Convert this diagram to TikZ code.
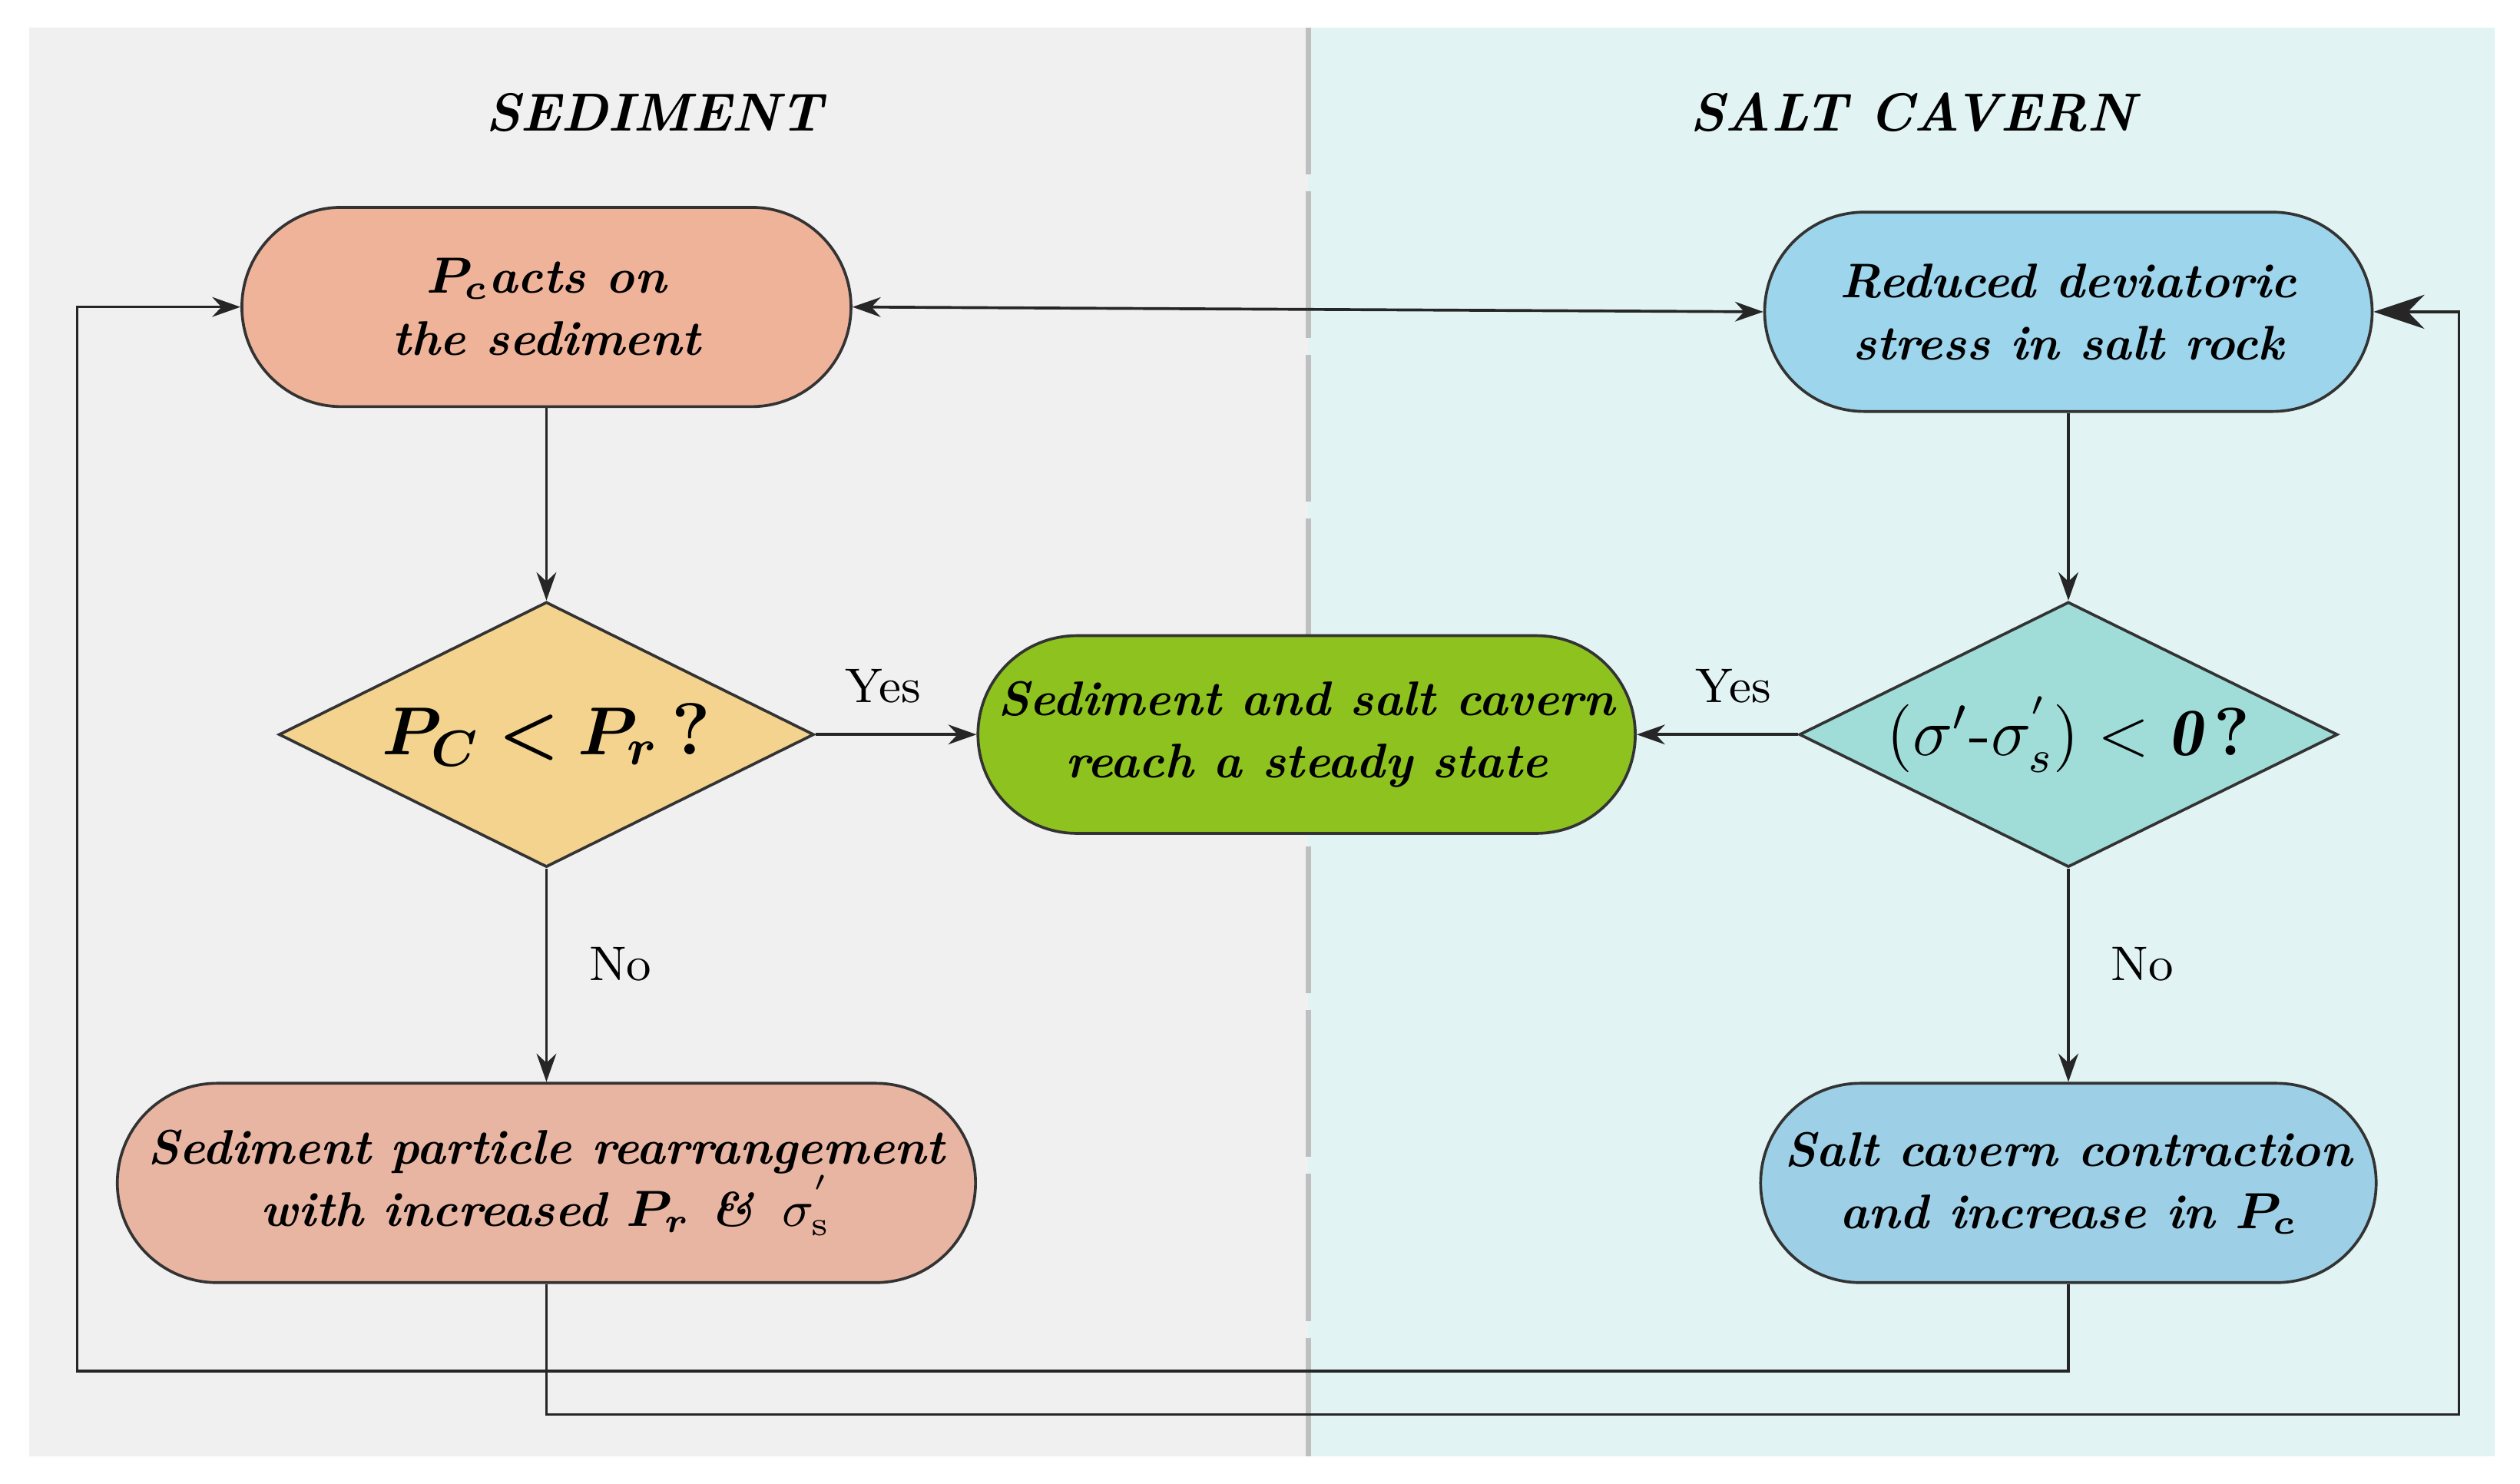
\documentclass[tikz,border=0pt]{standalone}
\usepackage{amsmath,bm}
\usepackage{fontspec}
\usetikzlibrary{shapes.geometric,shapes.misc,arrows.meta}
\definecolor{bgL}{HTML}{F0F0F0}
\definecolor{bgR}{HTML}{E1F3F3}
\definecolor{cA}{HTML}{EFB39A}
\definecolor{cB}{HTML}{9DD5EC}
\definecolor{cD1}{HTML}{F3D38E}
\definecolor{cD2}{HTML}{A0DCD8}
\definecolor{cC}{HTML}{8DC21F}
\definecolor{cE}{HTML}{E8B5A2}
\definecolor{cF}{HTML}{9DD0E6}
\newcommand{\bi}{\fontsize{8.6}{11}\selectfont\bfseries\itshape\addfontfeatures{LetterSpace=9}}
\begin{document}
\begin{tikzpicture}[x=0.1mm,y=-0.1mm,
  box/.style={rounded rectangle, draw=black!80, line width=0.5pt, align=center, font=\bi, inner sep=0pt},
  dia/.style={diamond, draw=black!80, line width=0.5pt, align=center, inner sep=0pt},
  arr/.style={-{Stealth[length=5pt,width=3.5pt]}, line width=0.5pt, draw=black!85},
  lab/.style={font=\fontsize{8.6}{11}\selectfont}]
\useasboundingbox (0,0) rectangle (1568,923);
\fill[white] (0,0) rectangle (1568,923);
\fill[bgL] (18,17) rectangle (814,906);
\fill[bgR] (814,17) rectangle (1552,906);
\draw[gray!50, line width=1pt, dash pattern=on 26pt off 3pt] (814,17) -- (814,906);
\node[font=\fontsize{9.5}{12}\selectfont\bfseries\itshape\addfontfeatures{LetterSpace=9}] (t1) at (407,70) {SEDIMENT};
\node[font=\fontsize{9.5}{12}\selectfont\bfseries\itshape\addfontfeatures{LetterSpace=9}] (t2) at (1190,70) {SALT CAVERN};

\node[box, fill=cA, minimum width=3.79cm, minimum height=1.24cm] (A) at (340,191) {$\bm{P_c}$acts on\\the sediment};
\node[box, fill=cB, minimum width=3.78cm, minimum height=1.24cm] (B) at (1287,194) {Reduced deviatoric\\stress in salt rock};
\node[dia, fill=cD1, minimum width=3.33cm, minimum height=1.65cm, aspect=2] (D1) at (340,457) {};
\node[font=\fontsize{13}{14}\selectfont] at (D1) {$\bm{P_C<P_r}$\,\textbf{?}};
\node[dia, fill=cD2, minimum width=3.35cm, minimum height=1.65cm, aspect=2] (D2) at (1287,457) {};
\node[font=\fontsize{12}{14}\selectfont] at (D2) {$(\sigma'\mbox{-}\sigma_s^{'})<\bm{\mathit{0}}$\,\textbf{?}};
\node[box, fill=cC, minimum width=4.09cm, minimum height=1.23cm] (C) at (813,457) {Sediment and salt cavern\\reach a steady state};
\node[box, fill=cE, minimum width=5.34cm, minimum height=1.24cm] (E) at (340,736) {Sediment particle rearrangement\\with increased $\bm{P_r}$ \& \,$\sigma_{\mathrm{s}}^{'}$};
\node[box, fill=cF, minimum width=3.83cm, minimum height=1.24cm] (F) at (1287,736) {Salt cavern contraction\\and increase in $\bm{P_c}$};

\draw[arr, {Stealth[length=5pt,width=3.5pt]}-{Stealth[length=5pt,width=3.5pt]}] (A.east) -- (B.west);
\draw[arr] (A.south) -- (D1.north);
\draw[arr] (B.south) -- (D2.north);
\draw[arr] (D1.east) -- node[lab, above=2pt, pos=0.42] {Yes} (C.west);
\draw[arr] (D2.west) -- node[lab, above=2pt, pos=0.4] {Yes} (C.east);
\draw[arr] (D1.south) -- node[lab, right=4pt, pos=0.45] {No} (E.north);
\draw[arr] (D2.south) -- node[lab, right=4pt, pos=0.45] {No} (F.north);
\coordinate (f1) at (1287,853);
\coordinate (f2) at (48,853);
\coordinate (f3) at (48,191);
\draw[arr] (F.south) -- (f1) -- (f2) -- (f3) -- (A.west);
\coordinate (e1) at (340,880);
\coordinate (e2) at (1530,880);
\coordinate (e3) at (1530,194);
\draw[arr, -{Stealth[length=9pt,width=6pt]}] (E.south) -- (e1) -- (e2) -- (e3) -- (B.east);
\end{tikzpicture}
\end{document}
